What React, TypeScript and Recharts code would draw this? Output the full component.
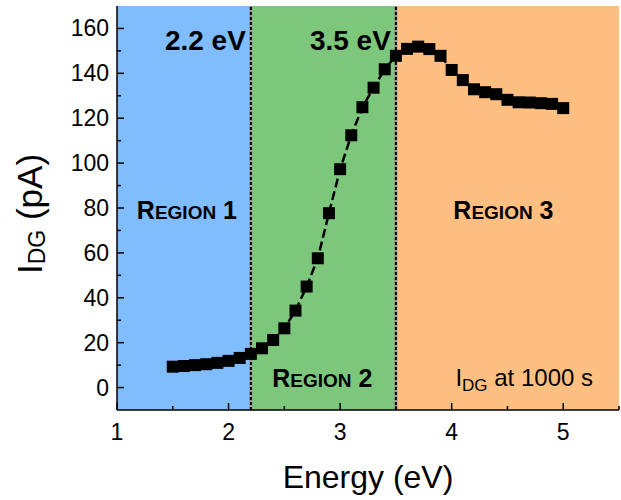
import {
  ComposedChart,
  Line,
  XAxis,
  YAxis,
  ReferenceArea,
  ReferenceLine,
} from "recharts";

// photon energy (eV) and drain current at 1000 s (pA)
const energy = [
  1.5, 1.6, 1.7, 1.8, 1.9, 2.0, 2.1, 2.2, 2.3, 2.4, 2.5, 2.6, 2.7, 2.8, 2.9, 3.0,
  3.1, 3.2, 3.3, 3.4, 3.5, 3.6, 3.7, 3.8, 3.9, 4.0, 4.1, 4.2, 4.3, 4.4, 4.5, 4.6,
  4.7, 4.8, 4.9, 5.0,
];
const current = [
  9.3, 9.6, 10.0, 10.4, 11.0, 11.9, 13.2, 15.0, 17.5, 21.2, 26.4, 34.3, 45.0,
  57.6, 77.7, 97.3, 112.4, 124.9, 133.6, 141.8, 147.8, 150.9, 151.9, 150.8,
  147.8, 141.5, 137.0, 132.9, 131.6, 130.7, 128.2, 127.1, 127.0, 126.7, 126.4,
  124.5,
];

const xTicks = [1, 1.5, 2, 2.5, 3, 3.5, 4, 4.5, 5, 5.5];
const yTicks = [0, 10, 20, 30, 40, 50, 60, 70, 80, 90, 100, 110, 120, 130, 140, 150, 160];

const thresholds = [2.2, 3.5];
const regions = [
  { from: 1, to: 2.2, name: "1", color: "#80bdff" },
  { from: 2.2, to: 3.5, name: "2", color: "#7dc77d" },
  { from: 3.5, to: 5.5, name: "3", color: "#ffbf80" },
];

const data = energy.map((e, i) => ({ e, i: current[i] }));

const FONT = "'Liberation Sans', Arial, sans-serif";

const BottomTick = ({ x, y, payload }: any) => {
  const major = Number.isInteger(payload.value);
  return (
    <g>
      <line x1={x} y1={y} x2={x} y2={y - (major ? 7 : 4)} stroke="#000" strokeWidth={1.5} />
      {major && (
        <text x={x} y={y + 30} textAnchor="middle" fontSize={23} fontFamily={FONT} fill="#000">
          {payload.value}
        </text>
      )}
    </g>
  );
};

const TopTick = ({ x, y, payload }: any) => {
  const major = Number.isInteger(payload.value);
  return <line x1={x} y1={y} x2={x} y2={y + (major ? 7 : 4)} stroke="#000" strokeWidth={1.5} />;
};

const LeftTick = ({ x, y, payload }: any) => {
  const major = payload.value % 20 === 0;
  return (
    <g>
      <line x1={x} y1={y} x2={x + (major ? 7 : 4)} y2={y} stroke="#000" strokeWidth={1.5} />
      {major && (
        <text x={x - 8} y={y + 8} textAnchor="end" fontSize={23} fontFamily={FONT} fill="#000">
          {payload.value}
        </text>
      )}
    </g>
  );
};

const RightTick = ({ x, y, payload }: any) => {
  const major = payload.value % 20 === 0;
  return <line x1={x} y1={y} x2={x - (major ? 7 : 4)} y2={y} stroke="#000" strokeWidth={1.5} />;
};

const Square = ({ cx, cy }: any) => (
  <rect x={cx - 6} y={cy - 6} width={12} height={12} fill="#000" />
);

const RegionName = ({ x, y, n }: { x: number; y: number; n: string }) => (
  <text x={x} y={y} textAnchor="middle" fontFamily={FONT} fontWeight="bold" fill="#000">
    <tspan fontSize={25}>R</tspan>
    <tspan fontSize={19}>EGION</tspan>
    <tspan fontSize={25}> {n}</tspan>
  </text>
);

const regionLabel = (n: string) => (props: any) => {
  const { x, y, width } = props.viewBox;
  const cx = x + width / 2;
  if (n === "2") return <RegionName x={cx - 1} y={y + 381} n={n} />;
  return (
    <g>
      <RegionName x={cx - (n === "3" ? 4 : -3)} y={y + 213} n={n} />
      {n === "3" && (
        <text x={x + width - 26} y={y + 380} textAnchor="end" fontFamily={FONT} fontSize={24} fill="#000">
          I<tspan fontSize={17} dy={5}>DG</tspan>
          <tspan dy={-5}> at 1000 s</tspan>
        </text>
      )}
    </g>
  );
};

const thresholdLabel = (v: number) => (props: any) => {
  const { x, y } = props.viewBox;
  return (
    <text x={x - 5} y={y + 44} textAnchor="end" fontFamily={FONT} fontWeight="bold" fontSize={28} fill="#000">
      {v} eV
    </text>
  );
};

const yLabel = (props: any) => {
  const { x, y, height } = props.viewBox;
  const tx = x + 42;
  const ty = y + height / 2 + 6;
  return (
    <text x={tx} y={ty} transform={`rotate(-90 ${tx} ${ty})`} textAnchor="middle" fontFamily={FONT} fontSize={35} fill="#000">
      I<tspan fontSize={23} dy={3}>DG</tspan>
      <tspan dy={-3}> (pA)</tspan>
    </text>
  );
};

const xLabel = (props: any) => {
  const { x, y, width } = props.viewBox;
  return (
    <text x={x + width / 2} y={y + 78} textAnchor="middle" fontFamily={FONT} fontSize={32} fill="#000">
      Energy (eV)
    </text>
  );
};

export default function App() {
  return (
    <div style={{ position: "absolute", left: 0, top: 0 }}>
      <ComposedChart
        width={621}
        height={500}
        data={data}
        margin={{ top: 6, right: 2, left: 0, bottom: 0 }}
      >
        {regions.map((r) => (
          <ReferenceArea
            key={r.name}
            x1={r.from}
            x2={r.to}
            fill={r.color}
            fillOpacity={1}
            stroke="none"
            label={regionLabel(r.name)}
          />
        ))}
        {thresholds.map((t) => (
          <ReferenceLine key={`g${t}`} x={t} stroke="#9a9a9a" strokeWidth={3} />
        ))}
        {thresholds.map((t) => (
          <ReferenceLine
            key={t}
            x={t}
            stroke="#000"
            strokeWidth={2}
            strokeDasharray="3 2"
            label={thresholdLabel(t)}
          />
        ))}
        <XAxis
          dataKey="e"
          type="number"
          domain={[1, 5.5]}
          ticks={xTicks}
          interval={0}
          height={90}
          tickSize={0}
          tickMargin={0}
          tickLine={false}
          tick={BottomTick}
          axisLine={{ stroke: "#000", strokeWidth: 1.5 }}
          label={xLabel}
          allowDataOverflow
        />
        <XAxis
          xAxisId="top"
          orientation="top"
          dataKey="e"
          type="number"
          domain={[1, 5.5]}
          ticks={xTicks}
          interval={0}
          height={0}
          tickSize={0}
          tickMargin={0}
          tickLine={false}
          tick={TopTick}
          axisLine={{ stroke: "#000", strokeWidth: 1.5 }}
          allowDataOverflow
        />
        <YAxis
          type="number"
          domain={[-10, 170]}
          ticks={yTicks}
          interval={0}
          width={117}
          tickSize={0}
          tickMargin={0}
          tickLine={false}
          tick={LeftTick}
          axisLine={{ stroke: "#000", strokeWidth: 1.5 }}
          label={yLabel}
          allowDataOverflow
        />
        <YAxis
          yAxisId="right"
          orientation="right"
          type="number"
          domain={[-10, 170]}
          ticks={yTicks}
          interval={0}
          width={0}
          tickSize={0}
          tickMargin={0}
          tickLine={false}
          tick={RightTick}
          axisLine={{ stroke: "#000", strokeWidth: 1.5 }}
          allowDataOverflow
        />
        <Line
          dataKey="i"
          type="linear"
          stroke="#000"
          strokeWidth={2.5}
          strokeDasharray="9 4"
          dot={<Square />}
          activeDot={false}
          isAnimationActive={false}
        />
      </ComposedChart>
    </div>
  );
}
